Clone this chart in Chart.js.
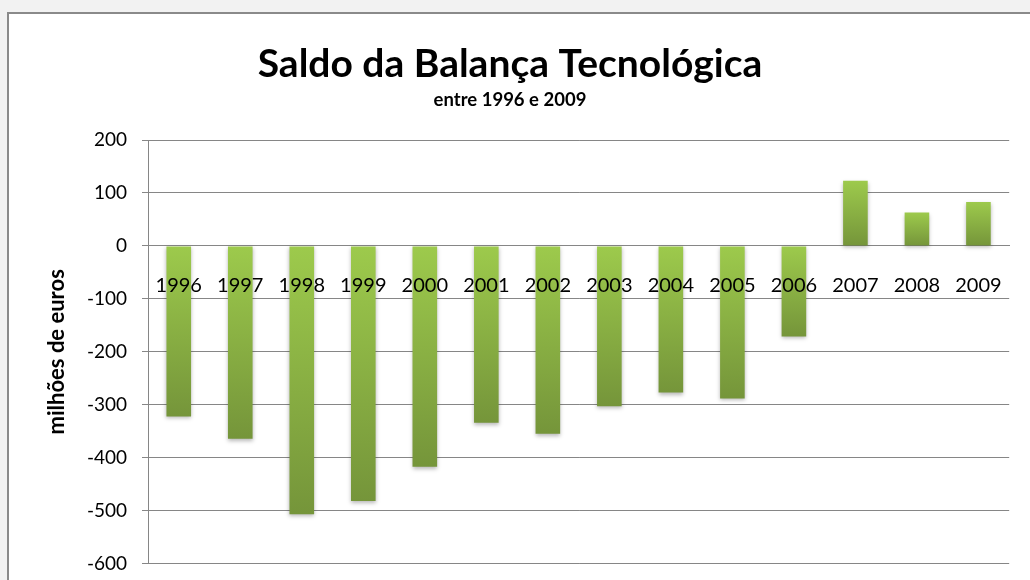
<!DOCTYPE html>
<html>
<head>
<meta charset="utf-8">
<script src="https://cdn.jsdelivr.net/npm/chart.js@4.4.1/dist/chart.umd.min.js"></script>
<style>
  html, body { margin: 0; padding: 0; background: #f2f2f2; width: 1030px; height: 580px; overflow: hidden; }
  #frame { position: absolute; left: 7px; top: 12px; width: 1100px; height: 700px; background: #ffffff; border-left: 2px solid #8a8a8a; border-top: 2px solid #8a8a8a; }
  #wrap { position: absolute; left: 0; top: 0; width: 1030px; height: 580px; overflow: hidden; }
</style>
</head>
<body>
<div id="frame"></div>
<div id="wrap"><canvas id="c" width="1030" height="590"></canvas></div>
<script>
const titleText = 'Saldo da Balança Tecnológica';
const subtitleText = 'entre 1996 e 2009';
const yAxisTitle = 'milhões de euros';
const years = ['1996','1997','1998','1999','2000','2001','2002','2003','2004','2005','2006','2007','2008','2009'];
const saldo = [-322, -364, -507, -482, -417, -334, -355, -303, -277, -288, -171, 123, 63, 83];
const yTicks = [200, 100, 0, -100, -200, -300, -400, -500, -600];

const FONT = 'Lato, "Open Sans", "Liberation Sans", sans-serif';

function barGradient(ctx) {
  const chart = ctx.chart;
  const area = chart.chartArea;
  if (!area || ctx.type !== 'data') return '#8db445';
  const y = chart.scales.y;
  const v = ctx.raw;
  const p0 = y.getPixelForValue(0);
  const p1 = y.getPixelForValue(v);
  const top = Math.min(p0, p1), bot = Math.max(p0, p1);
  const g = chart.ctx.createLinearGradient(0, top, 0, bot + 0.01);
  g.addColorStop(0, '#9dca4c');
  g.addColorStop(1, '#75953a');
  return g;
}

const shadowPlugin = {
  id: 'barShadow',
  beforeDatasetsDraw(chart) {
    const c = chart.ctx;
    c.save();
    c.shadowColor = 'rgba(0,0,0,0.28)';
    c.shadowBlur = 4;
    c.shadowOffsetY = 2;
  },
  afterDatasetsDraw(chart) {
    chart.ctx.restore();
  }
};

new Chart(document.getElementById('c'), {
  type: 'bar',
  data: {
    labels: years,
    datasets: [{
      data: saldo,
      backgroundColor: barGradient,
      borderWidth: 0,
      barPercentage: 0.8,
      categoryPercentage: 0.5
    }]
  },
  plugins: [shadowPlugin],
  options: {
    responsive: false,
    animation: false,
    layout: { padding: { left: 0, right: 10, top: 0, bottom: 18 } },
    plugins: {
      legend: { display: false },
      tooltip: { enabled: false },
      title: {
        display: true,
        text: titleText,
        color: '#000000',
        font: { family: FONT, size: 39, weight: 'bold', lineHeight: 1.2 },
        padding: { top: 41, bottom: 0 }
      },
      subtitle: {
        display: true,
        text: subtitleText,
        color: '#000000',
        font: { family: FONT, size: 18.5, weight: 'bold', lineHeight: 1.2 },
        padding: { top: 1, bottom: 29 }
      }
    },
    scales: {
      x: {
        position: { y: 0 },
        afterFit(scale) { scale.height = 0; scale.paddingTop = 0; scale.paddingBottom = 0; },
        grid: { display: false, drawTicks: false },
        border: { display: true, color: '#868686', width: 1 },
        ticks: { z: 1, color: '#000000', font: { family: FONT, size: 20 }, padding: 28, maxRotation: 0, autoSkip: false }
      },
      y: {
        min: -600,
        max: 200,
        afterBuildTicks(scale) { scale.ticks = yTicks.map(v => ({ value: v })); },
        afterFit(scale) { scale.width = 148; },
        grid: { color: '#868686', lineWidth: 1, drawTicks: true, tickLength: 6 },
        border: { display: true, color: '#868686', width: 1 },
        ticks: { color: '#000000', font: { family: FONT, size: 19 }, padding: 15 },
        title: {
          display: true,
          text: yAxisTitle,
          color: '#000000',
          font: { family: FONT, size: 22, weight: 'bold', lineHeight: 1.2 },
          padding: { top: 44, bottom: 0 }
        }
      }
    }
  }
});
</script>
</body>
</html>
